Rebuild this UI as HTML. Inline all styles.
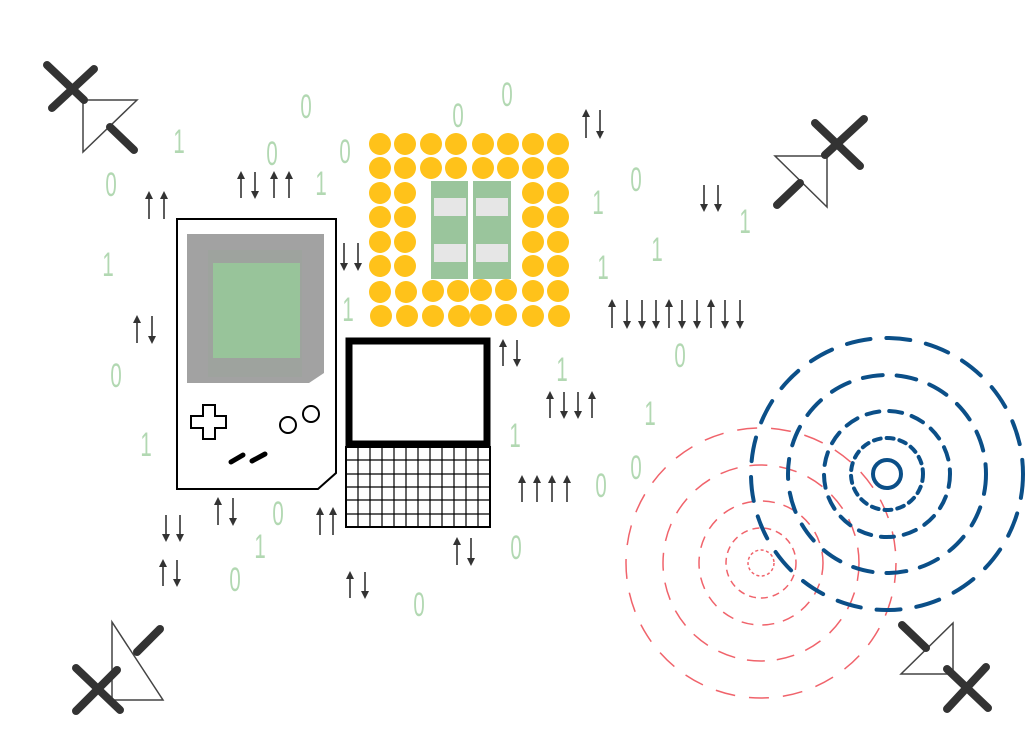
<!DOCTYPE html>
<html><head><meta charset="utf-8"><style>
html,body{margin:0;padding:0;background:#fff;}
svg{display:block;}
text{font-family:"Liberation Sans",sans-serif;fill:#b2d8b2;font-size:34px;text-anchor:middle;}
</style></head><body>
<svg width="1025" height="752" viewBox="0 0 1025 752" xmlns="http://www.w3.org/2000/svg">
<defs>
<marker id="ah" viewBox="0 0 10 10" refX="5" refY="5" markerWidth="5" markerHeight="5" orient="auto"><path d="M0,0 L10,5 L0,10 z" fill="#333"/></marker>
</defs>
<g>
<text transform="translate(306,118) scale(0.6,1)">0</text>
<text transform="translate(507,106) scale(0.6,1)">0</text>
<text transform="translate(458,127) scale(0.6,1)">0</text>
<text transform="translate(179,153) scale(0.6,1)">1</text>
<text transform="translate(272,165) scale(0.6,1)">0</text>
<text transform="translate(345,163) scale(0.6,1)">0</text>
<text transform="translate(321,195) scale(0.6,1)">1</text>
<text transform="translate(111,196) scale(0.6,1)">0</text>
<text transform="translate(108,276) scale(0.6,1)">1</text>
<text transform="translate(598,214) scale(0.6,1)">1</text>
<text transform="translate(636,191) scale(0.6,1)">0</text>
<text transform="translate(745,233) scale(0.6,1)">1</text>
<text transform="translate(657,261) scale(0.6,1)">1</text>
<text transform="translate(603,279) scale(0.6,1)">1</text>
<text transform="translate(348,321) scale(0.6,1)">1</text>
<text transform="translate(116,387) scale(0.6,1)">0</text>
<text transform="translate(146,456) scale(0.6,1)">1</text>
<text transform="translate(680,367) scale(0.6,1)">0</text>
<text transform="translate(562,381) scale(0.6,1)">1</text>
<text transform="translate(650,425) scale(0.6,1)">1</text>
<text transform="translate(515,447) scale(0.6,1)">1</text>
<text transform="translate(636,479) scale(0.6,1)">0</text>
<text transform="translate(601,497) scale(0.6,1)">0</text>
<text transform="translate(278,525) scale(0.6,1)">0</text>
<text transform="translate(260,558) scale(0.6,1)">1</text>
<text transform="translate(235,591) scale(0.6,1)">0</text>
<text transform="translate(516,559) scale(0.6,1)">0</text>
<text transform="translate(419,616) scale(0.6,1)">0</text>
</g>
<g stroke="#333" stroke-width="1.6" marker-end="url(#ah)">
<!-- uu 149,164 192-219 -->
<line x1="149" y1="219" x2="149" y2="195"/><line x1="164" y1="219" x2="164" y2="195"/>
<!-- uduu 172-198 -->
<line x1="241" y1="198" x2="241" y2="175"/><line x1="255" y1="172" x2="255" y2="195"/><line x1="274" y1="198" x2="274" y2="175"/><line x1="289" y1="198" x2="289" y2="175"/>
<!-- dd 344,358 243-270 -->
<line x1="344" y1="243" x2="344" y2="267"/><line x1="358" y1="243" x2="358" y2="267"/>
<!-- ud 137,152 316-343 -->
<line x1="137" y1="343" x2="137" y2="319"/><line x1="152" y1="316" x2="152" y2="340"/>
<!-- ud 586,600 110-138 -->
<line x1="586" y1="138" x2="586" y2="113"/><line x1="600" y1="110" x2="600" y2="135"/>
<!-- dd 704,718 185-211 -->
<line x1="704" y1="185" x2="704" y2="208"/><line x1="718" y1="185" x2="718" y2="208"/>
<!-- row 300-328 udddudduddd -->
<line x1="612" y1="328" x2="612" y2="303"/>
<line x1="627" y1="300" x2="627" y2="325"/>
<line x1="642" y1="300" x2="642" y2="325"/>
<line x1="656" y1="300" x2="656" y2="325"/>
<line x1="669" y1="328" x2="669" y2="303"/>
<line x1="682" y1="300" x2="682" y2="325"/>
<line x1="697" y1="300" x2="697" y2="325"/>
<line x1="711" y1="328" x2="711" y2="303"/>
<line x1="725" y1="300" x2="725" y2="325"/>
<line x1="740" y1="300" x2="740" y2="325"/>
<!-- ud 503,517 340-366 -->
<line x1="503" y1="366" x2="503" y2="343"/><line x1="517" y1="340" x2="517" y2="363"/>
<!-- uddu 392-418 -->
<line x1="550" y1="418" x2="550" y2="395"/><line x1="564" y1="392" x2="564" y2="415"/><line x1="578" y1="392" x2="578" y2="415"/><line x1="592" y1="418" x2="592" y2="395"/>
<!-- uuuu 476-502 -->
<line x1="522" y1="502" x2="522" y2="479"/><line x1="537" y1="502" x2="537" y2="479"/><line x1="552" y1="502" x2="552" y2="479"/><line x1="567" y1="502" x2="567" y2="479"/>
<!-- ud 457,471 538-565 -->
<line x1="457" y1="565" x2="457" y2="541"/><line x1="471" y1="538" x2="471" y2="562"/>
<!-- ud 350,365 572-598 -->
<line x1="350" y1="598" x2="350" y2="575"/><line x1="365" y1="572" x2="365" y2="595"/>
<!-- uu 320,333 508-535 -->
<line x1="320" y1="535" x2="320" y2="511"/><line x1="333" y1="535" x2="333" y2="511"/>
<!-- ud 218,233 498-525 -->
<line x1="218" y1="525" x2="218" y2="501"/><line x1="233" y1="498" x2="233" y2="522"/>
<!-- dd 166,180 515-541 -->
<line x1="166" y1="515" x2="166" y2="538"/><line x1="180" y1="515" x2="180" y2="538"/>
<!-- ud 163,177 560-586 -->
<line x1="163" y1="586" x2="163" y2="563"/><line x1="177" y1="560" x2="177" y2="583"/>
</g>

<!-- red circles -->
<g fill="none" stroke="#f0636b" stroke-width="1.5">
<circle cx="761" cy="563" r="135" stroke-dasharray="20 14"/>
<circle cx="761" cy="563" r="98" stroke-dasharray="18 12"/>
<circle cx="761" cy="563" r="62" stroke-dasharray="12 9"/>
<circle cx="761" cy="563" r="35" stroke-dasharray="7 5"/>
<circle cx="761" cy="563" r="13" stroke-dasharray="3 2.5"/>
</g>
<!-- blue circles -->
<g fill="none" stroke="#0b4f88" stroke-width="4" stroke-linecap="round">
<circle cx="887" cy="474" r="136" stroke-dasharray="24 16"/>
<circle cx="887" cy="474" r="99" stroke-dasharray="20 14"/>
<circle cx="887" cy="474" r="63" stroke-dasharray="13 10"/>
<circle cx="887" cy="474" r="36" stroke-dasharray="7 6"/>
<circle cx="887" cy="474" r="14"/>
</g>

<!-- chip -->
<g fill="#ffc21a">
<circle cx="380" cy="144" r="11"/><circle cx="405" cy="144" r="11"/><circle cx="431" cy="144" r="11"/><circle cx="456" cy="144" r="11"/><circle cx="483" cy="144" r="11"/><circle cx="508" cy="144" r="11"/><circle cx="533" cy="144" r="11"/><circle cx="558" cy="144" r="11"/>
<circle cx="380" cy="168" r="11"/><circle cx="405" cy="168" r="11"/><circle cx="431" cy="168" r="11"/><circle cx="456" cy="168" r="11"/><circle cx="483" cy="168" r="11"/><circle cx="508" cy="168" r="11"/><circle cx="533" cy="168" r="11"/><circle cx="558" cy="168" r="11"/>
<circle cx="380" cy="193" r="11"/><circle cx="405" cy="193" r="11"/><circle cx="533" cy="193" r="11"/><circle cx="558" cy="193" r="11"/>
<circle cx="380" cy="217" r="11"/><circle cx="405" cy="217" r="11"/><circle cx="533" cy="217" r="11"/><circle cx="558" cy="217" r="11"/>
<circle cx="380" cy="242" r="11"/><circle cx="405" cy="242" r="11"/><circle cx="533" cy="242" r="11"/><circle cx="558" cy="242" r="11"/>
<circle cx="380" cy="266" r="11"/><circle cx="405" cy="266" r="11"/><circle cx="533" cy="266" r="11"/><circle cx="558" cy="266" r="11"/>
<circle cx="380" cy="292" r="11"/><circle cx="406" cy="292" r="11"/><circle cx="433" cy="291" r="11"/><circle cx="458" cy="291" r="11"/><circle cx="481" cy="290" r="11"/><circle cx="506" cy="290" r="11"/><circle cx="533" cy="291" r="11"/><circle cx="558" cy="291" r="11"/>
<circle cx="381" cy="316" r="11"/><circle cx="407" cy="316" r="11"/><circle cx="433" cy="316" r="11"/><circle cx="459" cy="316" r="11"/><circle cx="481" cy="315" r="11"/><circle cx="506" cy="315" r="11"/><circle cx="533" cy="316" r="11"/><circle cx="559" cy="316" r="11"/>
</g>
<g>
<rect x="431" y="181" width="37" height="98" fill="#9ac59c"/>
<rect x="473" y="181" width="38" height="98" fill="#9ac59c"/>
<rect x="434" y="198" width="32" height="18" fill="#e6e6e6"/>
<rect x="434" y="244" width="32" height="18" fill="#e6e6e6"/>
<rect x="476" y="198" width="32" height="18" fill="#e6e6e6"/>
<rect x="476" y="244" width="32" height="18" fill="#e6e6e6"/>
</g>

<!-- gameboy -->
<path d="M177,219 H336 V473 L318,489 H177 Z" fill="#fff" stroke="#000" stroke-width="2"/>
<path d="M187,234 H324 V373 L309,383 H187 Z" fill="#a2a2a2"/>
<rect x="208" y="250" width="94" height="127" fill="#9ea39e"/>
<rect x="213" y="263" width="87" height="95" fill="#98c49a"/>
<path d="M203,405 h12 v11 h11 v12 h-11 v11 h-12 v-11 h-12 v-12 h12 z" fill="#fff" stroke="#000" stroke-width="2"/>
<circle cx="288" cy="425" r="8" fill="#fff" stroke="#000" stroke-width="2"/>
<circle cx="311" cy="414" r="8" fill="#fff" stroke="#000" stroke-width="2"/>
<g stroke="#000" stroke-width="5" stroke-linecap="round">
<line x1="231" y1="462" x2="243" y2="455"/>
<line x1="252" y1="461" x2="265" y2="454"/>
</g>

<!-- laptop -->
<rect x="349" y="341" width="138" height="103" fill="#fff" stroke="#000" stroke-width="7"/>
<g stroke="#000" stroke-width="1.2" fill="none">
<line x1="358" y1="447" x2="358" y2="527"/><line x1="370" y1="447" x2="370" y2="527"/><line x1="382" y1="447" x2="382" y2="527"/><line x1="394" y1="447" x2="394" y2="527"/><line x1="406" y1="447" x2="406" y2="527"/><line x1="418" y1="447" x2="418" y2="527"/><line x1="430" y1="447" x2="430" y2="527"/><line x1="442" y1="447" x2="442" y2="527"/><line x1="454" y1="447" x2="454" y2="527"/><line x1="466" y1="447" x2="466" y2="527"/><line x1="478" y1="447" x2="478" y2="527"/>
<line x1="346" y1="460" x2="490" y2="460"/><line x1="346" y1="474" x2="490" y2="474"/><line x1="346" y1="487" x2="490" y2="487"/><line x1="346" y1="500" x2="490" y2="500"/><line x1="346" y1="514" x2="490" y2="514"/>
</g>
<rect x="346" y="447" width="144" height="80" fill="none" stroke="#000" stroke-width="2"/>

<!-- diodes -->
<g stroke="#444" stroke-width="1.5" fill="#fff">
<path d="M83,100 L137,100 L83,152 Z"/>
<path d="M775,156 L827,156 L827,207 Z"/>
<path d="M112,622 L112,700 L163,700 Z"/>
<path d="M901,674 L953,674 L953,623 Z"/>
</g>
<g stroke="#333" stroke-width="8" stroke-linecap="round">
<line x1="47" y1="65" x2="84" y2="100"/><line x1="94" y1="69" x2="52" y2="108"/>
<line x1="110" y1="127" x2="134" y2="150"/>
<line x1="815" y1="123" x2="860" y2="166"/><line x1="864" y1="119" x2="825" y2="155"/>
<line x1="777" y1="205" x2="800" y2="183"/>
<line x1="76" y1="668" x2="120" y2="710"/><line x1="76" y1="711" x2="117" y2="670"/>
<line x1="137" y1="652" x2="160" y2="629"/>
<line x1="947" y1="669" x2="988" y2="708"/><line x1="947" y1="709" x2="986" y2="667"/>
<line x1="902" y1="625" x2="926" y2="648"/>
</g>
</svg>
</body></html>
